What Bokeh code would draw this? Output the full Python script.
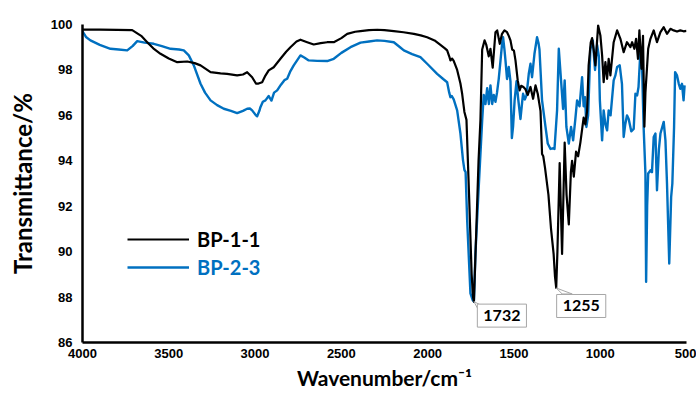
from bokeh.plotting import figure
from bokeh.models import Range1d, FixedTicker, Legend, LegendItem, Label
from bokeh.embed import file_html
from bokeh.resources import INLINE

# ---------------- data ----------------
wn_bp11 = [4000, 3900, 3800, 3712, 3660, 3625, 3590, 3548, 3500, 3451, 3393, 3350, 3316, 3258, 3200,
           3162, 3104, 3070, 3046, 3017, 2995, 2980, 2959, 2940, 2921, 2892, 2853, 2820, 2795, 2760,
           2737, 2698, 2660, 2620, 2582, 2544, 2500, 2466, 2420, 2389, 2340, 2293, 2250, 2196, 2140,
           2080, 2040, 2003, 1960, 1926, 1900, 1887, 1875, 1868, 1858, 1849, 1829, 1810, 1800, 1791,
           1787, 1775, 1760, 1745, 1737, 1732, 1720, 1705, 1694, 1684, 1670, 1660, 1646, 1636, 1623,
           1607, 1597, 1582, 1569, 1555, 1540, 1530, 1520, 1510, 1500, 1491, 1478, 1467, 1458, 1445,
           1433, 1420, 1404, 1389, 1375, 1362, 1346, 1337, 1330, 1320, 1300, 1285, 1270, 1262, 1255,
           1248, 1235, 1221, 1206, 1195, 1182, 1170, 1163, 1153, 1140, 1128, 1115, 1096, 1086, 1076,
           1067, 1055, 1047, 1038, 1028, 1012, 999, 989, 980, 970, 960, 951, 941, 922, 902,
           883, 864, 845, 825, 815, 802, 792, 781, 773, 761, 752, 744, 738, 722, 709,
           690, 671, 651, 632, 613, 593, 574, 555, 536, 517, 500]
tr_bp11 = [99.77, 99.77, 99.76, 99.75, 99.5, 99.22, 98.95, 98.71, 98.5, 98.34, 98.37, 98.3, 98.2, 97.9, 97.85,
           97.83, 97.76, 97.8, 97.9, 97.68, 97.4, 97.4, 97.46, 97.75, 97.98, 98.12, 98.49, 98.8, 99.0, 99.25,
           99.33, 99.22, 99.12, 99.18, 99.22, 99.22, 99.4, 99.59, 99.68, 99.71, 99.75, 99.77, 99.75, 99.71, 99.66,
           99.59, 99.52, 99.44, 99.3, 99.1, 98.95, 98.86, 98.6, 98.42, 98.5, 98.4, 98.0, 97.4, 96.95, 96.4,
           96.15, 95.8, 92.5, 89.0, 88.0, 87.8, 90.5, 94.0, 95.8, 98.9, 99.3, 99.1, 98.6, 98.93, 98.1,
           99.66, 99.74, 99.15, 99.59, 99.74, 99.66, 99.5, 99.3, 98.9, 98.85, 98.42, 97.54, 97.1, 97.3, 97.25,
           97.15, 96.9, 97.25, 96.73, 97.32, 96.95, 96.2, 94.3, 94.2, 93.7, 92.5, 91.0, 89.9, 88.9, 88.4,
           90.0, 93.9, 89.9, 94.8, 92.5, 91.2, 93.5, 94.0, 93.3, 94.4, 94.2, 94.8, 95.9, 95.6, 96.2,
           98.2, 99.2, 99.4, 98.9, 98.2, 99.96, 99.52, 98.64, 97.46, 98.34, 97.61, 98.49, 97.76, 99.22, 99.74,
           99.37, 98.78, 99.22, 99.0, 99.22, 98.93, 99.37, 98.49, 99.74, 98.05, 99.5, 95.5, 97.0, 98.93, 99.37,
           99.74, 99.22, 99.66, 99.88, 99.59, 99.81, 99.74, 99.69, 99.74, 99.70, 99.72]

wn_bp23 = [4000, 3980, 3954, 3900, 3838, 3790, 3741, 3710, 3683, 3640, 3587, 3540, 3490, 3440, 3413,
           3384, 3355, 3316, 3290, 3258, 3220, 3181, 3140, 3104, 3070, 3046, 3030, 3017, 2995, 2988,
           2975, 2969, 2955, 2940, 2921, 2905, 2890, 2872, 2850, 2830, 2814, 2795, 2776, 2737, 2715,
           2689, 2640, 2582, 2544, 2500, 2447, 2389, 2340, 2293, 2250, 2196, 2160, 2138, 2090, 2042,
           2000, 1945, 1910, 1887, 1875, 1868, 1860, 1849, 1829, 1810, 1795, 1787, 1780, 1771, 1752,
           1739, 1732, 1723, 1704, 1684, 1675, 1665, 1655, 1645, 1636, 1626, 1617, 1607, 1598, 1588,
           1578, 1568, 1563, 1555, 1549, 1540, 1530, 1520, 1512, 1505, 1496, 1485, 1475, 1462, 1452,
           1447, 1437, 1427, 1414, 1404, 1395, 1381, 1366, 1358, 1352, 1337, 1317, 1304, 1288, 1275,
           1265, 1250, 1240, 1227, 1215, 1206, 1196, 1182, 1169, 1157, 1144, 1134, 1120, 1105, 1096,
           1088, 1080, 1070, 1057, 1043, 1030, 1018, 1008, 1002, 989, 980, 970, 960, 951, 940,
           922, 912, 902, 887, 874, 864, 855, 845, 835, 820, 806, 796, 786, 778, 768,
           760, 752, 748, 738, 734, 728, 722, 709, 700, 690, 680, 671, 660, 651, 632,
           622, 613, 600, 589, 582, 572, 566, 555, 545, 536, 526, 517, 511]
tr_bp23 = [99.7, 99.45, 99.3, 99.1, 98.93, 98.9, 98.86, 99.05, 99.27, 99.2, 99.15, 99.05, 98.93, 98.9, 98.86,
           98.64, 98.2, 97.39, 97.0, 96.66, 96.45, 96.29, 96.2, 96.1, 96.2, 96.29, 96.3, 96.22, 96.0, 95.96,
           96.2, 96.36, 96.6, 96.66, 96.85, 96.65, 97.0, 97.1, 97.35, 97.55, 97.61, 97.95, 98.2, 98.64, 98.55,
           98.42, 98.4, 98.39, 98.49, 98.75, 99.0, 99.2, 99.25, 99.3, 99.28, 99.22, 99.0, 98.86, 98.7, 98.56,
           98.25, 97.83, 97.6, 97.46, 97.0, 96.8, 96.85, 96.7, 96.22, 95.2, 94.02, 93.6, 93.5, 91.38, 88.16,
           87.87, 87.8, 89.93, 92.84, 95.78, 96.9, 96.5, 97.2, 96.5, 97.32, 96.5, 96.9, 96.6, 97.0, 97.61,
           98.4, 99.2, 99.44, 98.9, 98.42, 97.6, 98.13, 97.5, 95.0, 95.5, 96.66, 97.5, 96.7, 95.84, 96.6,
           96.95, 96.7, 96.88, 97.83, 98.27, 97.68, 98.71, 99.44, 99.2, 98.9, 96.66, 95.49, 94.76, 94.52, 94.55,
           94.52, 96.22, 98.93, 97.54, 96.28, 97.54, 95.49, 94.76, 95.49, 94.9, 95.84, 96.66, 96.4, 97.68, 96.4,
           96.8, 95.49, 96.0, 98.93, 99.3, 98.0, 99.1, 98.6, 96.66, 94.9, 96.22, 95.6, 95.34, 96.22, 96.0,
           97.54, 97.76, 98.13, 98.2, 97.39, 95.05, 95.6, 96.0, 95.84, 95.3, 95.4, 96.95, 96.88, 97.25, 98.71,
           98.9, 96.5, 95.4, 93.44, 88.67, 92.0, 93.44, 93.58, 93.5, 95.05, 95.2, 92.7, 94.5, 95.2, 95.71,
           94.9, 93.0, 89.48, 92.4, 93.0, 95.5, 97.9, 97.76, 97.4, 97.17, 97.39, 96.66, 97.32]

x_ticks = [4000, 3500, 3000, 2500, 2000, 1500, 1000, 500]
y_ticks = [86, 88, 90, 92, 94, 96, 98, 100]
series_names = ["BP-1-1", "BP-2-3"]
peak_wn = [1732, 1255]
peak_tr = [87.8, 88.4]
peak_text = ["1732", "1255"]

# ---------------- figure ----------------
W, H = 696, 392
MB_L, MB_R, MB_T, MB_B = 82, 10, 24, 50
BLACK, BLUE = "#000000", "#0070C0"
TITLE_FONT = "Lato"

p = figure(width=W, height=H, output_backend="svg", toolbar_location=None,
           x_range=Range1d(4000, 500), y_range=Range1d(86, 100),
           min_border_left=MB_L, min_border_right=MB_R, min_border_top=MB_T,
           min_border_bottom=MB_B)
p.outline_line_color = None
p.grid.visible = False
p.background_fill_color = "white"
p.border_fill_color = "white"

for ax in (p.xaxis[0], p.yaxis[0]):
    ax.axis_line_color = "black"
    ax.axis_line_width = 2.5
    ax.major_tick_line_color = None
    ax.minor_tick_line_color = None
    ax.major_tick_out = 0
    ax.major_tick_in = 0
    ax.major_label_text_font = "Liberation Sans"
    ax.major_label_text_font_style = "bold"
    ax.major_label_text_font_size = "13px"
    ax.major_label_text_color = "black"
    ax.axis_label_text_font = TITLE_FONT
    ax.axis_label_text_font_style = "bold"
    ax.axis_label_text_color = "black"

p.xaxis.ticker = FixedTicker(ticks=x_ticks)
p.yaxis.ticker = FixedTicker(ticks=y_ticks)
p.xaxis.axis_label = "Wavenumber/cm\u207b\u00b9"
p.yaxis.axis_label = "Transmittance/%"
p.xaxis.axis_label_text_font_size = "21px"
p.yaxis.axis_label_text_font_size = "24px"
p.xaxis.major_label_standoff = 6
p.xaxis.axis_label_standoff = 4
p.yaxis.major_label_standoff = 10
p.yaxis.axis_label_standoff = 11

r1 = p.line(wn_bp11, tr_bp11, line_color=BLACK, line_width=2.2, line_join="round")
r2 = p.line(wn_bp23, tr_bp23, line_color=BLUE, line_width=2.4, line_join="round")
p.renderers = [r2, r1]  # black drawn over blue

# legends (two, so each label takes its series colour)
for rend, name, col, loc in [(r1, series_names[0], BLACK, (45, 91)),
                             (r2, series_names[1], BLUE, (45, 63))]:
    lg = Legend(items=[LegendItem(label=name, renderers=[rend])], location=loc,
                glyph_width=62, glyph_height=24, label_standoff=8, padding=0, margin=0,
                border_line_color=None, background_fill_alpha=0,
                label_text_font=TITLE_FONT, label_text_font_style="bold",
                label_text_font_size="20px", label_text_color=col)
    p.add_layout(lg)

# callouts for the two main bands
fw = W - MB_L - MB_R
fh = H - MB_T - MB_B
dxu = 3500.0 / fw   # wavenumber per px
dyu = 14.0 / fh     # transmittance per px
box_off = [(28, 14), (25, 18)]        # box centre offset from peak (px right, px down)
tail_pts = [((6, 3), (6, 11)), ((6, 6), (16, 6))]
for wn, tr, txt, (ox, oy), (a, b) in zip(peak_wn, peak_tr, peak_text, box_off, tail_pts):
    xs = [wn, wn - a[0] * dxu, wn - b[0] * dxu]
    ys = [tr, tr - a[1] * dyu, tr - b[1] * dyu]
    p.patch(xs, ys, fill_color="white", line_color="#a6a6a6", line_width=1)
    p.add_layout(Label(x=wn, y=tr, x_offset=ox, y_offset=-oy, text=txt,
                       text_align="center", text_baseline="middle",
                       text_font=TITLE_FONT, text_font_style="bold", text_font_size="16px",
                       text_color="black", background_fill_color="white",
                       border_line_color="#a6a6a6", border_line_width=1, padding=6))

open("out.html", "w").write(file_html(p, INLINE))
